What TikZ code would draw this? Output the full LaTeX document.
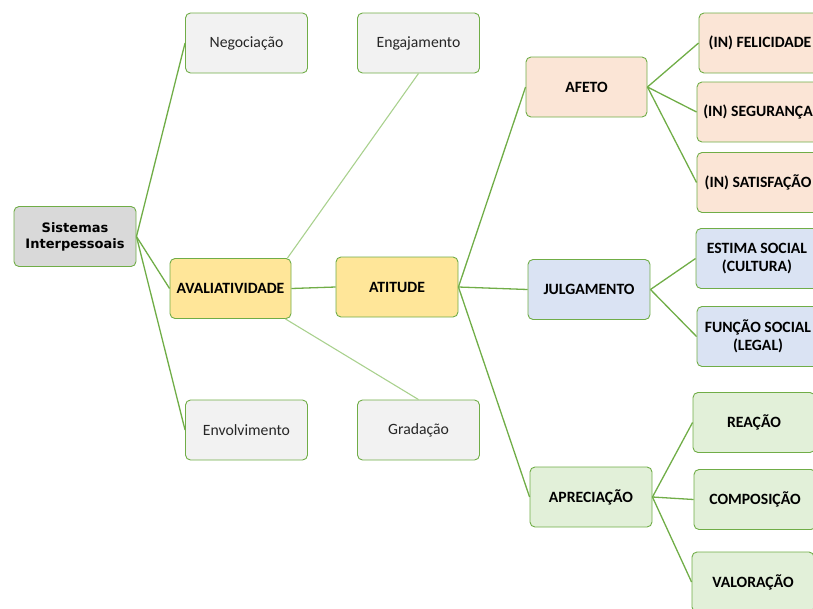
\documentclass[tikz,border=0pt]{standalone}
\usepackage{fontspec}
\setmainfont{Carlito}
\newfontfamily\rootfont{DejaVu Sans}
\usetikzlibrary{calc}
\definecolor{edgegreen}{HTML}{70AD47}
\definecolor{edgelight}{HTML}{A9D18E}
\definecolor{rootgray}{HTML}{D9D9D9}
\definecolor{softgray}{HTML}{F2F2F2}
\definecolor{avalyellow}{HTML}{FFE699}
\definecolor{afetopeach}{HTML}{FBE5D6}
\definecolor{julgblue}{HTML}{DAE3F3}
\definecolor{aprecgreen}{HTML}{E2F0D9}
\tikzstyle{line} = [draw=edgegreen, line width=1.3pt]
\tikzstyle{thinline} = [draw=edgelight, line width=1.1pt]
\tikzstyle{block} = [draw=edgegreen, line width=0.9pt, rectangle, rounded corners=5pt, text centered, align=center, minimum width=122pt, minimum height=60pt, inner sep=2pt, text=black!85, font=\fontsize{15.7}{18}\selectfont]
\tikzstyle{sub} = [block, text=black, font=\fontsize{15.7}{18}\selectfont\bfseries]

\begin{document}
\begin{tikzpicture}[x=1pt, y=-1pt]
        \useasboundingbox (0,0) rectangle (813,608);
        \clip (0,0) rectangle (813,608);
        \node[block, fill=rootgray, text=black, font=\rootfont\fontsize{13}{16}\selectfont\bfseries] (sistemas) at (75,236.5) {Sistemas\\Interpessoais};
        \node[block, fill=softgray] (negoc) at (246.5,43) {Negociação};
        \node[block, fill=softgray] (engaj) at (418.5,43) {Engajamento};
        \node[sub, fill=avalyellow, minimum width=121pt] (avaliat) at (230.5,288.5) {AVALIATIVIDADE};
        \node[sub, fill=avalyellow] (atitude) at (397,287) {ATITUDE};
        \node[block, fill=softgray] (envolv) at (246.5,430) {Envolvimento};
        \node[block, fill=softgray] (gradac) at (418.5,430) {Gradação};
        \node[sub, fill=afetopeach, minimum width=121pt] (afeto) at (586.5,87) {AFETO};
        \node[sub, fill=julgblue] (julgam) at (589,289.5) {JULGAMENTO};
        \node[sub, fill=aprecgreen] (aprec) at (591,497) {APRECIAÇÃO};
        \node[sub, fill=afetopeach] (felic) at (760,43) {(IN) FELICIDADE};
        \node[sub, fill=afetopeach] (segur) at (758,112) {(IN) SEGURANÇA};
        \node[sub, fill=afetopeach] (satisf) at (758,182.5) {(IN) SATISFAÇÃO};
        \node[sub, fill=julgblue] (estima) at (757,258.5) {ESTIMA SOCIAL\\(CULTURA)};
        \node[sub, fill=julgblue] (funcao) at (758,336.5) {FUNÇÃO SOCIAL\\(LEGAL)};
        \node[sub, fill=aprecgreen] (reacao) at (754,422.5) {REAÇÃO};
        \node[sub, fill=aprecgreen] (compos) at (755,499.5) {COMPOSIÇÃO};
        \node[sub, fill=aprecgreen] (valor) at (753,582) {VALORAÇÃO};
        \path[line] (sistemas.east) -- (negoc.west);
        \path[line] (sistemas.east) -- (avaliat.west);
        \path[line] (sistemas.east) -- (envolv.west);
        \path[thinline] ($(avaliat.north east)+(-4,0)$) -- (engaj.south);
        \path[thinline] ($(avaliat.south east)+(-6,0)$) -- (gradac.north);
        \path[line] (avaliat.east) -- (atitude.west);
        \path[line] (atitude.east) -- (afeto.west);
        \path[line] (atitude.east) -- (julgam.west);
        \path[line] (atitude.east) -- (aprec.west);
        \path[line] (afeto.east) -- (felic.west);
        \path[line] (afeto.east) -- (segur.west);
        \path[line] (afeto.east) -- (satisf.west);
        \path[line] (julgam.east) -- (estima.west);
        \path[line] (julgam.east) -- (funcao.west);
        \path[line] (aprec.east) -- (reacao.west);
        \path[line] (aprec.east) -- (compos.west);
        \path[line] (aprec.east) -- (valor.west);
    \end{tikzpicture}
\end{document}
